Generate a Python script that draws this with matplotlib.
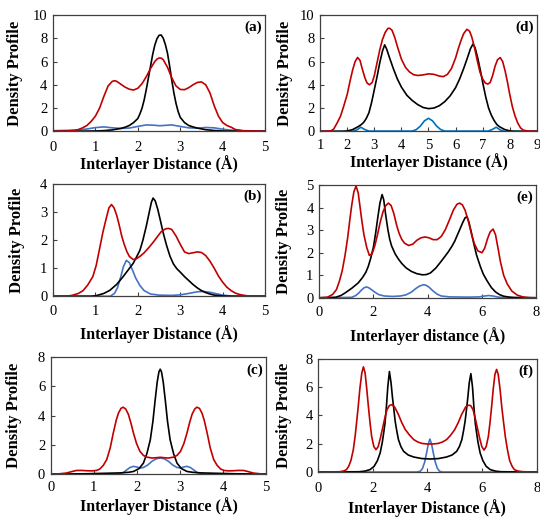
import matplotlib
matplotlib.use("Agg")
from matplotlib import pyplot as plt

plt.rcParams['font.family'] = ['Liberation Serif', 'DejaVu Serif']

# ---------------- datos ----------------
# (a)
a_black_x = [0, 0.5, 1.0, 1.2, 1.4, 1.6, 1.7, 1.8, 1.9, 2.0, 2.05, 2.1, 2.15, 2.2, 2.25, 2.3, 2.35, 2.4, 2.45,
             2.5, 2.55, 2.6, 2.65, 2.7, 2.75, 2.8, 2.85, 2.9, 2.95, 3.0, 3.1, 3.2, 3.3, 3.4, 3.6, 3.8, 4.0, 4.5, 5.0]
a_black_y = [0, 0.01, 0.03, 0.06, 0.12, 0.25, 0.35, 0.5, 0.75, 1.1, 1.5, 2.0, 2.7, 3.6, 4.6, 5.6, 6.6, 7.4, 7.95,
             8.25, 8.28, 8.0, 7.45, 6.7, 5.6, 4.4, 3.3, 2.4, 1.7, 1.2, 0.75, 0.5, 0.38, 0.28, 0.14, 0.07, 0.03, 0.01, 0]
a_red_x = [0, 0.3, 0.5, 0.6, 0.7, 0.8, 0.9, 1.0, 1.1, 1.2, 1.3, 1.4, 1.46, 1.5, 1.6, 1.7, 1.8, 1.9, 2.0, 2.1,
           2.2, 2.3, 2.4, 2.45, 2.5, 2.55, 2.6, 2.7, 2.8, 2.9, 3.0, 3.1, 3.2, 3.3, 3.4, 3.5, 3.6, 3.7, 3.8, 3.9,
           4.0, 4.1, 4.2, 4.3, 4.5, 5.0]
a_red_y = [0, 0.02, 0.08, 0.15, 0.3, 0.5, 0.85, 1.3, 2.0, 3.0, 3.9, 4.3, 4.35, 4.3, 4.05, 3.8, 3.62, 3.55, 3.7,
           4.1, 4.7, 5.4, 6.0, 6.2, 6.3, 6.3, 6.15, 5.5, 4.6, 3.9, 3.6, 3.58, 3.75, 4.0, 4.2, 4.25, 4.0, 3.3, 2.2,
           1.3, 0.75, 0.5, 0.35, 0.15, 0.04, 0]
a_blue_x = [0, 0.5, 0.8, 1.0, 1.2, 1.4, 1.6, 1.8, 2.0, 2.2, 2.4, 2.5, 2.6, 2.8, 3.0, 3.2, 3.4, 3.6, 3.8, 4.0,
            4.2, 4.5, 5.0]
a_blue_y = [0.05, 0.1, 0.2, 0.32, 0.38, 0.3, 0.25, 0.28, 0.42, 0.55, 0.52, 0.48, 0.5, 0.55, 0.42, 0.3, 0.27,
            0.33, 0.3, 0.18, 0.1, 0.05, 0.03]

# (d)
d_red_x = [1.0, 1.2, 1.4, 1.5, 1.62, 1.75, 1.86, 2.0, 2.11, 2.2, 2.29, 2.38, 2.47, 2.55, 2.65, 2.73, 2.82, 2.92,
           3.0, 3.1, 3.2, 3.3, 3.4, 3.5, 3.56, 3.65, 3.75, 3.85, 4.0, 4.15, 4.3, 4.45, 4.6, 4.8, 5.0, 5.2, 5.4,
           5.55, 5.7, 5.85, 6.0, 6.1, 6.2, 6.3, 6.42, 6.52, 6.6, 6.7, 6.8, 6.9, 7.0, 7.1, 7.19, 7.28, 7.37, 7.46,
           7.55, 7.65, 7.74, 7.83, 7.92, 8.0, 8.1, 8.2, 8.3, 8.4, 8.5, 8.7, 9.0]
d_red_y = [0, 0, 0.05, 0.2, 0.7, 1.3, 2.1, 3.2, 4.4, 5.3, 6.0, 6.35, 6.1, 5.4, 4.6, 4.15, 4.0, 4.2,
           4.8, 5.9, 7.0, 7.9, 8.5, 8.85, 8.86, 8.7, 8.1, 7.3, 6.2, 5.5, 5.1, 4.87, 4.8, 4.85, 4.94, 4.9, 4.75,
           4.7, 4.9, 5.4, 6.3, 7.1, 7.8, 8.4, 8.77, 8.6, 8.1, 7.2, 6.1, 5.1, 4.5, 4.15, 4.06, 4.2, 4.8, 5.6,
           6.15, 6.34, 6.0, 5.2, 4.2, 3.2, 2.1, 1.3, 0.7, 0.3, 0.1, 0.02, 0]
d_black_x = [1.0, 1.8, 2.0, 2.2, 2.4, 2.5, 2.6, 2.7, 2.8, 2.9, 3.0, 3.1, 3.2, 3.3, 3.38, 3.45, 3.55, 3.7, 3.85,
             4.0, 4.2, 4.4, 4.6, 4.8, 5.0, 5.2, 5.4, 5.6, 5.8, 6.0, 6.15, 6.3, 6.45, 6.55, 6.64, 6.72, 6.82, 6.92,
             7.02, 7.12, 7.22, 7.32, 7.42, 7.52, 7.62, 7.82, 8.02, 8.2, 9.0]
d_black_y = [0, 0, 0.03, 0.15, 0.4, 0.55, 0.75, 1.1, 1.6, 2.5, 3.6, 4.7, 5.9, 6.9, 7.43, 7.1, 6.4, 5.4, 4.5,
             3.8, 3.1, 2.65, 2.3, 2.05, 1.95, 2.0, 2.2, 2.55, 3.05, 3.75, 4.5, 5.4, 6.4, 7.1, 7.49, 7.2, 6.3, 5.2,
             4.0, 2.9, 2.0, 1.4, 0.95, 0.6, 0.4, 0.15, 0.03, 0, 0]
d_blue_x = [1.0, 2.2, 2.35, 2.5, 2.65, 2.8, 4.4, 4.55, 4.7, 4.85, 5.0, 5.15, 5.3, 5.45, 5.6, 7.2, 7.35, 7.5,
            7.65, 7.8, 9.0]
d_blue_y = [0, 0, 0.12, 0.35, 0.15, 0.02, 0.02, 0.15, 0.45, 0.9, 1.12, 0.9, 0.45, 0.15, 0.02, 0.02, 0.15, 0.35,
            0.12, 0, 0]

# (b)
b_red_x = [0, 0.3, 0.45, 0.6, 0.71, 0.82, 0.94, 1.02, 1.1, 1.18, 1.26, 1.32, 1.38, 1.44, 1.5, 1.56, 1.62, 1.68,
           1.74, 1.8, 1.89, 1.96, 2.05, 2.15, 2.25, 2.35, 2.45, 2.55, 2.65, 2.72, 2.8, 2.9, 3.0, 3.1, 3.2, 3.3,
           3.4, 3.5, 3.6, 3.7, 3.8, 3.9, 4.0, 4.1, 4.2, 4.3, 4.4, 4.55, 4.7, 5.0]
b_red_y = [0, 0, 0.03, 0.1, 0.2, 0.4, 0.7, 1.1, 1.7, 2.3, 2.8, 3.15, 3.27, 3.15, 2.9, 2.55, 2.15, 1.85,
           1.6, 1.42, 1.31, 1.33, 1.42, 1.55, 1.72, 1.9, 2.1, 2.3, 2.4, 2.42, 2.38, 2.15, 1.85, 1.58, 1.52, 1.55,
           1.58, 1.56, 1.45, 1.25, 1.0, 0.72, 0.5, 0.32, 0.2, 0.11, 0.06, 0.02, 0, 0]
b_black_x = [0, 0.9, 1.02, 1.2, 1.34, 1.5, 1.65, 1.78, 1.89, 1.97, 2.05, 2.12, 2.2, 2.27, 2.32, 2.36, 2.41,
             2.47, 2.54, 2.6, 2.68, 2.76, 2.84, 2.92, 3.0, 3.1, 3.2, 3.3, 3.4, 3.5, 3.6, 3.7, 3.8, 4.0, 4.2, 5.0]
b_black_y = [0, 0, 0.02, 0.1, 0.21, 0.42, 0.69, 0.95, 1.17, 1.4, 1.64, 2.0, 2.5, 3.0, 3.35, 3.5, 3.4,
             3.1, 2.65, 2.25, 1.8, 1.42, 1.15, 0.98, 0.86, 0.7, 0.56, 0.42, 0.3, 0.2, 0.13, 0.08, 0.04, 0.01, 0, 0]
b_blue_x = [0, 1.35, 1.45, 1.52, 1.6, 1.66, 1.73, 1.8, 1.87, 1.95, 2.05, 2.15, 2.3, 2.5, 2.8, 3.0, 3.2, 3.4,
            3.55, 3.7, 3.85, 4.0, 4.2, 4.4, 5.0]
b_blue_y = [0, 0, 0.1, 0.3, 0.7, 1.05, 1.28, 1.2, 0.95, 0.65, 0.38, 0.2, 0.08, 0.04, 0.03, 0.05, 0.1, 0.16,
            0.17, 0.14, 0.09, 0.04, 0.01, 0, 0]

# (e)
e_red_x = [0, 0.3, 0.5, 0.64, 0.75, 0.85, 0.95, 1.05, 1.13, 1.2, 1.28, 1.36, 1.44, 1.5, 1.57, 1.65, 1.75, 1.85,
           1.95, 2.05, 2.15, 2.25, 2.35, 2.45, 2.55, 2.65, 2.75, 2.86, 2.95, 3.05, 3.15, 3.3, 3.45, 3.6, 3.75,
           3.9, 4.05, 4.2, 4.35, 4.5, 4.65, 4.8, 4.95, 5.08, 5.18, 5.28, 5.38, 5.5, 5.62, 5.72, 5.85, 6.0, 6.1,
           6.2, 6.3, 6.41, 6.5, 6.6, 6.68, 6.8, 6.93, 7.1, 7.3, 7.5, 7.7, 8.0]
e_red_y = [0, 0.02, 0.15, 0.37, 0.75, 1.2, 1.85, 2.65, 3.45, 4.1, 4.7, 4.96, 4.65, 4.1, 3.45, 2.8, 2.25, 1.88,
           1.95, 2.3, 2.8, 3.35, 3.8, 4.08, 4.2, 4.1, 3.75, 3.2, 2.85, 2.58, 2.42, 2.32, 2.38, 2.55, 2.66,
           2.7, 2.66, 2.58, 2.58, 2.72, 3.02, 3.45, 3.9, 4.15, 4.2, 4.12, 3.88, 3.4, 2.8, 2.4, 2.08, 2.0, 2.2,
           2.6, 2.92, 3.05, 2.8, 2.15, 1.6, 1.0, 0.62, 0.3, 0.12, 0.04, 0.01, 0]
e_black_x = [0, 0.6, 0.8, 0.95, 1.2, 1.44, 1.6, 1.72, 1.81, 1.9, 2.0, 2.08, 2.16, 2.24, 2.32, 2.38, 2.45, 2.53,
             2.6, 2.67, 2.8, 2.92, 3.04, 3.2, 3.4, 3.6, 3.8, 3.95, 4.1, 4.3, 4.46, 4.6, 4.75, 4.9, 5.0, 5.1, 5.2,
             5.3, 5.38, 5.45, 5.52, 5.6, 5.69, 5.8, 5.94, 6.05, 6.19, 6.35, 6.5, 6.65, 6.8, 7.0, 7.2, 8.0]
e_black_y = [0, 0.02, 0.1, 0.21, 0.42, 0.66, 0.9, 1.13, 1.39, 1.75, 2.25, 2.85, 3.55, 4.2, 4.58, 4.35, 3.7, 3.05,
             2.6, 2.3, 1.95, 1.72, 1.53, 1.33, 1.17, 1.07, 1.02, 1.03, 1.1, 1.32, 1.56, 1.78, 2.02, 2.3, 2.52, 2.8,
             3.08, 3.36, 3.55, 3.6, 3.35, 2.95, 2.45, 1.9, 1.39, 1.05, 0.75, 0.45, 0.26, 0.14, 0.07, 0.03, 0.01, 0]
e_blue_x = [0, 1.2, 1.35, 1.45, 1.55, 1.65, 1.74, 1.82, 1.92, 2.05, 2.2, 2.4, 2.7, 3.0, 3.2, 3.4, 3.55, 3.7,
            3.85, 3.95, 4.05, 4.2, 4.35, 4.5, 4.8, 5.5, 5.9, 6.1, 6.25, 6.4, 6.6, 6.9, 8.0]
e_blue_y = [0, 0.02, 0.1, 0.2, 0.33, 0.44, 0.48, 0.45, 0.37, 0.25, 0.14, 0.08, 0.06, 0.08, 0.13, 0.25, 0.4, 0.52,
            0.58, 0.55, 0.47, 0.3, 0.16, 0.08, 0.04, 0.03, 0.04, 0.08, 0.1, 0.08, 0.03, 0.01, 0]

# (c)
c_black_x = [0, 0.8, 1.2, 1.6, 1.8, 1.92, 2.05, 2.15, 2.23, 2.31, 2.37, 2.42, 2.47, 2.51, 2.54, 2.57, 2.61, 2.66,
             2.71, 2.77, 2.85, 2.93, 3.03, 3.16, 3.3, 3.5, 3.9, 4.3, 5.0]
c_black_y = [0, 0.02, 0.05, 0.08, 0.12, 0.18, 0.38, 0.75, 1.4, 2.35, 3.6, 5.0, 6.3, 7.0, 7.18, 7.0, 6.3, 5.0,
             3.6, 2.35, 1.4, 0.75, 0.38, 0.18, 0.12, 0.08, 0.05, 0.02, 0]
c_red_x = [0, 0.2, 0.36, 0.5, 0.6, 0.72, 0.83, 0.95, 1.06, 1.14, 1.22, 1.3, 1.38, 1.45, 1.52, 1.57, 1.63, 1.68,
           1.74, 1.8, 1.86, 1.92, 1.99, 2.07, 2.15, 2.23, 2.35, 2.45, 2.54, 2.63, 2.73, 2.85, 2.93, 3.01, 3.09,
           3.16, 3.22, 3.28, 3.34, 3.39, 3.45, 3.51, 3.56, 3.63, 3.7, 3.78, 3.86, 3.94, 4.02, 4.12, 4.24, 4.35,
           4.47, 4.57, 4.7, 4.86, 5.0]
c_red_y = [0, 0.02, 0.07, 0.18, 0.25, 0.25, 0.23, 0.22, 0.25, 0.35, 0.6, 1.0, 1.8, 2.8, 3.7, 4.17, 4.5, 4.58,
           4.45, 4.1, 3.5, 2.8, 2.1, 1.55, 1.28, 1.16, 1.1, 1.12, 1.15, 1.12, 1.1, 1.16, 1.28, 1.55, 2.1,
           2.8, 3.5, 4.1, 4.45, 4.58, 4.5, 4.17, 3.7, 2.8, 1.8, 1.0, 0.6, 0.35, 0.25, 0.22, 0.23, 0.25,
           0.25, 0.18, 0.07, 0.02, 0]
c_blue_x = [0, 1.5, 1.6, 1.68, 1.76, 1.84, 1.92, 2.0, 2.07, 2.15, 2.25, 2.35, 2.45, 2.54, 2.63, 2.73, 2.83,
            2.93, 3.01, 3.08, 3.16, 3.24, 3.32, 3.4, 3.48, 3.58, 5.0]
c_blue_y = [0, 0, 0.03, 0.1, 0.28, 0.45, 0.53, 0.48, 0.42, 0.45, 0.62, 0.88, 1.05, 1.1, 1.05, 0.88, 0.62,
            0.45, 0.42, 0.48, 0.53, 0.45, 0.28, 0.1, 0.03, 0, 0]

# (f)
f_red_x = [0, 0.8, 0.95, 1.04, 1.12, 1.2, 1.29, 1.36, 1.42, 1.47, 1.53, 1.6, 1.66, 1.72, 1.78, 1.84, 1.9, 1.96,
           2.04, 2.12, 2.2, 2.28, 2.36, 2.44, 2.52, 2.61, 2.7, 2.8, 2.94, 3.06, 3.19, 3.35, 3.5, 3.65, 3.8, 4.0,
           4.2, 4.4, 4.55, 4.7, 4.85, 5.0, 5.13, 5.25, 5.4, 5.5, 5.58, 5.67, 5.75, 5.83, 5.91, 5.99, 6.07, 6.15,
           6.23, 6.29, 6.35, 6.41, 6.47, 6.53, 6.59, 6.66, 6.72, 6.78, 6.85, 6.93, 7.01, 7.1, 7.18, 7.3, 7.5, 8.0]
f_red_y = [0, 0.02, 0.08, 0.17, 0.4, 0.8, 1.58, 2.6, 3.7, 4.65, 5.9, 7.0, 7.43, 7.0, 5.9, 4.65, 3.5, 2.52,
           1.8, 1.58, 1.8, 2.4, 3.1, 3.8, 4.4, 4.7, 4.76, 4.6, 4.06, 3.5, 3.0, 2.6, 2.29, 2.12, 2.02, 1.98,
           1.98, 2.02, 2.12, 2.29, 2.6, 3.0, 3.5, 4.06, 4.6, 4.72, 4.7, 4.4, 3.8, 3.1, 2.4, 1.8, 1.55, 1.8,
           2.52, 3.5, 4.65, 5.9, 6.9, 7.25, 6.9, 5.8, 4.6, 3.6, 2.5, 1.55, 0.8, 0.4, 0.17, 0.07, 0.02, 0]
f_black_x = [0, 1.5, 1.7, 1.9, 2.05, 2.17, 2.27, 2.35, 2.41, 2.45, 2.5, 2.55, 2.61, 2.67, 2.72, 2.76, 2.82, 2.88,
             2.94, 3.03, 3.13, 3.3, 3.5, 3.8, 4.1, 4.4, 4.7, 4.9, 5.07, 5.17, 5.26, 5.32, 5.38, 5.44, 5.48, 5.53,
             5.59, 5.65, 5.7, 5.75, 5.79, 5.85, 5.93, 6.03, 6.15, 6.3, 6.5, 6.7, 8.0]
f_black_y = [0, 0.02, 0.06, 0.17, 0.4, 0.8, 1.34, 2.1, 2.9, 3.47, 4.6, 6.0, 7.1, 6.3, 5.3, 4.65, 3.6, 2.9,
             2.29, 1.8, 1.46, 1.2, 1.06, 0.95, 0.92, 0.95, 1.06, 1.2, 1.46, 1.8, 2.29, 2.9, 3.6, 4.6, 5.3, 6.3,
             6.95, 6.0, 4.6, 3.47, 2.9, 2.1, 1.34, 0.8, 0.4, 0.17, 0.06, 0.02, 0]
f_blue_x = [0, 3.6, 3.74, 3.82, 3.9, 3.97, 4.03, 4.09, 4.15, 4.21, 4.28, 4.36, 4.44, 4.55, 8.0]
f_blue_y = [0, 0, 0.05, 0.25, 0.7, 1.35, 1.95, 2.33, 2.0, 1.4, 0.75, 0.28, 0.06, 0, 0]

# ---------------- figura ----------------
NEGRO = "#000000"
ROJO = "#C00000"
AZUL = "#4472C4"
MARCO = "#404040"

fig = plt.figure(figsize=(5.4, 5.17), dpi=100)

paneles = [
    # pos, xlim, xticks, ylim, yticks, letra, xlabel, ylabel x, xlabel y, pad x, datos, azul
    ([0.098, 0.746, 0.393, 0.225], (0, 5), range(0, 6), (0, 10), range(0, 11, 2), "(a)",
     "Interlayer Distance (Å)", -0.14, -0.205, 7,
     (a_black_x, a_black_y, a_red_x, a_red_y, a_blue_x, a_blue_y), AZUL),
    ([0.593, 0.746, 0.401, 0.225], (1, 9), range(1, 10), (0, 10), range(0, 11, 2), "(d)",
     "Interlayer Distance (Å)", -0.124, -0.187, 5.5,
     (d_black_x, d_black_y, d_red_x, d_red_y, d_blue_x, d_blue_y), "#0070C0"),
    ([0.098, 0.427, 0.393, 0.217], (0, 5), range(0, 6), (0, 4), range(0, 5), "(b)",
     "Interlayer Distance (Å)", -0.132, -0.26, 6,
     (b_black_x, b_black_y, b_red_x, b_red_y, b_blue_x, b_blue_y), AZUL),
    ([0.591, 0.424, 0.402, 0.218], (0, 8), range(0, 9, 2), (0, 5), range(0, 6), "(e)",
     "Interlayer distance (Å)", -0.124, -0.257, 6,
     (e_black_x, e_black_y, e_red_x, e_red_y, e_blue_x, e_blue_y), AZUL),
    ([0.094, 0.083, 0.399, 0.226], (0, 5), range(0, 6), (0, 8), range(0, 9, 2), "(c)",
     "Interlayer Distance (Å)", -0.135, -0.2, 5,
     (c_black_x, c_black_y, c_red_x, c_red_y, c_blue_x, c_blue_y), AZUL),
    ([0.589, 0.087, 0.405, 0.219], (0, 8), range(0, 9, 2), (0, 8), range(0, 9, 2), "(f)",
     "Interlayer Distance (Å)", -0.119, -0.235, 7.5,
     (f_black_x, f_black_y, f_red_x, f_red_y, f_blue_x, f_blue_y), AZUL),
]

for pos, xlim, xt, ylim, yt, letra, xlab, ylx, xly, padx, datos, azul in paneles:
    ax = fig.add_axes(pos)
    bx, by, rx, ry, zx, zy = datos
    ax.plot(zx, zy, color=azul, lw=1.2)
    ax.plot(bx, by, color=NEGRO, lw=1.2)
    ax.plot(rx, ry, color=ROJO, lw=1.2)
    ax.set_xlim(*xlim)
    ax.set_ylim(*ylim)
    ax.set_xticks(list(xt))
    ax.set_yticks(list(yt))
    ax.tick_params(direction="in", length=3, width=0.8, color=MARCO, labelsize=10.5)
    ax.tick_params(axis="x", pad=padx)
    ax.tick_params(axis="y", pad=4)
    for s in ax.spines.values():
        s.set_color(MARCO)
        s.set_linewidth(0.9)
    ax.set_xlabel(xlab, fontsize=11.5, fontweight="bold")
    ax.set_ylabel("Density Profile", fontsize=12, fontweight="bold")
    ax.yaxis.set_label_coords(ylx, 0.5)
    ax.xaxis.set_label_coords(0.5, xly)
    ax.text(0.985, 0.95, letra, transform=ax.transAxes, ha="right", va="top",
            fontsize=11, fontweight="bold")

fig.savefig("out.png", dpi=100)
